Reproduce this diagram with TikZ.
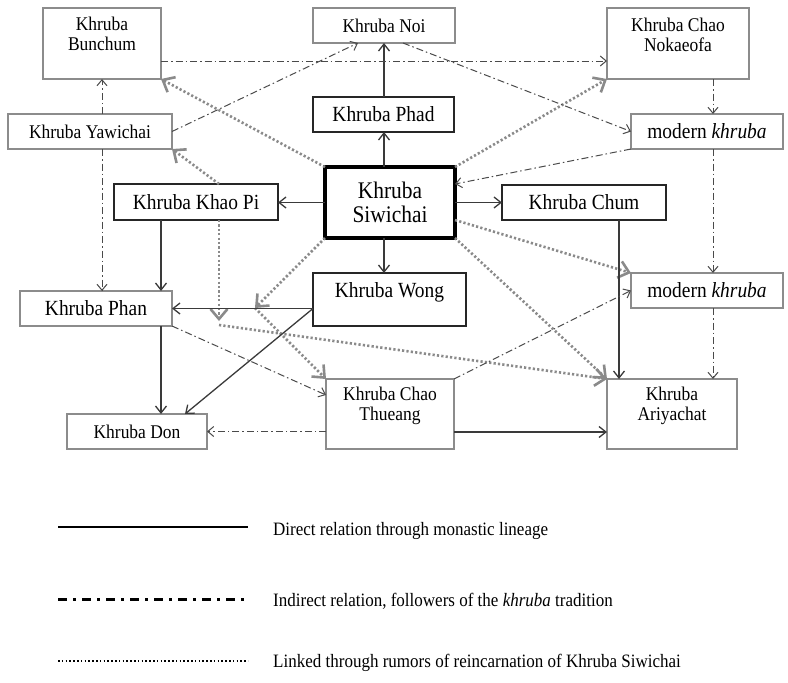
\documentclass[tikz,border=0pt]{standalone}
\usepackage{fontspec}
\setmainfont{Liberation Serif}[FakeStretch=0.9]
\usetikzlibrary{arrows.meta,calc}
\definecolor{gbord}{HTML}{8C8C8C}
\definecolor{kbord}{HTML}{262626}
\definecolor{lnc}{HTML}{3A3A3A}
\definecolor{ddc}{HTML}{4A4A4A}
\definecolor{dotc}{HTML}{8A8A8A}
\begin{document}
\begin{tikzpicture}[x=1pt,y=-1pt,
  boxbase/.style={rectangle, inner sep=0pt, outer sep=0pt, text=black},
  gbox/.style={boxbase, draw=gbord, line width=1.2pt},
  kbox/.style={boxbase, draw=kbord, line width=1.4pt},
  fs/.style={font=\fontsize{19.4}{19.5}\selectfont},
  fl/.style={font=\fontsize{21.6}{22}\selectfont},
  fx/.style={font=\fontsize{23.8}{24}\selectfont},
  lbl/.style={inner sep=0pt, align=center, anchor=north, text=black},
  ln/.style={draw=lnc, line width=1.3pt, -{Straight Barb[length=7pt,width=11pt,line width=1.3pt]}},
  dd/.style={draw=ddc, line width=1pt, dash pattern=on 7pt off 3pt on 1.5pt off 3pt, -{Straight Barb[length=6pt,width=10pt,line width=1pt]}},
  rr/.style={draw=dotc, line width=2.6pt, dash pattern=on 2.2pt off 2.2pt, -{Straight Barb[length=10pt,width=17pt,line width=2.6pt]}},
]
\useasboundingbox (0,0) rectangle (788,683);

% boxes
\node[gbox, minimum width=118pt, minimum height=71pt] (bun) at (102,43.5) {};
\node[lbl, fs] (bunT) at (102,17) {Khruba\\Bunchum};
\node[gbox, fs, minimum width=142pt, minimum height=35pt] (noi) at (384,25.5) {Khruba Noi};
\node[gbox, minimum width=142pt, minimum height=71pt] (nok) at (678,43.5) {};
\node[lbl, fs] (nokT) at (678,18) {Khruba Chao\\Nokaeofa};
\node[kbox, fl, minimum width=141pt, minimum height=35pt] (phad) at (383.5,114.5) {Khruba Phad};
\node[gbox, fs, minimum width=164pt, minimum height=35pt] (yaw) at (90,131.5) {Khruba Yawichai};
\node[gbox, fl, minimum width=152pt, minimum height=35pt] (mod1) at (707,131.5) {modern \textit{khruba}};
\node[boxbase, draw=black, line width=3.6pt, fx, align=center, minimum width=130pt, minimum height=71pt] (siw) at (390,202.5) {Khruba\\Siwichai};
\node[kbox, fl, minimum width=164pt, minimum height=36pt] (khao) at (196,202) {Khruba Khao Pi};
\node[kbox, fl, minimum width=164pt, minimum height=35pt] (chum) at (584,202.5) {Khruba Chum};
\node[gbox, fl, minimum width=152pt, minimum height=35pt] (phan) at (96,308.5) {Khruba Phan};
\node[kbox, minimum width=153pt, minimum height=53pt] (wong) at (389.5,299.5) {};
\node[lbl, fl] (wongT) at (389.5,282) {Khruba Wong};
\node[gbox, fl, minimum width=152pt, minimum height=35pt] (mod2) at (707,290.5) {modern \textit{khruba}};
\node[gbox, minimum width=128pt, minimum height=70pt] (thu) at (390,414) {};
\node[lbl, fs] (thuT) at (390,387) {Khruba Chao\\Thueang};
\node[gbox, fs, minimum width=140pt, minimum height=35pt] (don) at (137,431.5) {Khruba Don};
\node[gbox, minimum width=130pt, minimum height=70pt] (ari) at (672,414) {};
\node[lbl, fs] (ariT) at (672,387) {Khruba\\Ariyachat};

\coordinate (c1) at (219,321);
\coordinate (c2) at (255,308);

% dotted (reincarnation)
\draw[rr] (siw.north west) -- (bun.south east);
\draw[rr] (siw.north east) -- (nok.south west);
\draw[rr] ([xshift=23pt]khao.north) -- (yaw.south east);
\draw[rr] ([xshift=23pt]khao.south) -- (c1);
\draw[rr] ([yshift=-4pt]c1) -- (ari.north west);
\draw[rr] (siw.south west) -- (c2);
\draw[rr] (c2) -- (thu.north west);
\draw[rr] ([yshift=-17.5pt]siw.east) -- (mod2.north west);
\draw[rr] (siw.south east) -- (ari.north west);

% solid (monastic lineage)
\draw[ln] ([xshift=-6pt]siw.north) -- ([xshift=-6pt]siw.north |- phad.south);
\draw[ln] ([xshift=0.5pt]phad.north) -- ([xshift=0.5pt]phad.north |- noi.south);
\draw[ln] (siw.west) -- (siw.west -| khao.east);
\draw[ln] (siw.east) -- (siw.east -| chum.west);
\draw[ln] ([xshift=-6pt]siw.south) -- ([xshift=-6pt]siw.south |- wong.north);
\draw[ln] ([xshift=-35pt]khao.south) -- ([xshift=-35pt]khao.south |- phan.north);
\draw[ln] (phan.east -| wong.west) -- (phan.east);
\draw[ln] (phan.east -| wong.west) -- ([xshift=48pt]don.north);
\draw[ln] ([xshift=65pt]phan.south) -- ([xshift=65pt]phan.south |- don.north);
\draw[ln] ([xshift=35pt]chum.south) -- ([xshift=35pt]chum.south |- ari.north);
\draw[ln] ([yshift=-18pt]thu.east) -- ([yshift=-18pt]thu.east -| ari.west);

% dash-dot (followers)
\draw[dd] ([yshift=-17.5pt]bun.east) -- ([yshift=-17.5pt]bun.east -| nok.west);
\draw[dd] (yaw.east) -- ([xshift=-26pt]noi.south);
\draw[dd] ([xshift=19pt]noi.south) -- (mod1.west);
\draw[dd] ([xshift=12pt]yaw.north) -- ([xshift=12pt]yaw.north |- bun.south);
\draw[dd] ([xshift=12pt]yaw.south) -- ([xshift=12pt]yaw.south |- phan.north);
\draw[dd] ([xshift=35pt]nok.south) -- ([xshift=35pt]nok.south |- mod1.north);
\draw[dd] (mod1.south west) -- ([yshift=18.5pt]siw.east);
\draw[dd] ([xshift=6pt]mod1.south) -- ([xshift=6pt]mod2.north);
\draw[dd] ([xshift=6pt]mod2.south) -- ([xshift=6pt]mod2.south |- ari.north);
\draw[dd] (phan.south east) -- ([yshift=19pt]thu.west);
\draw[dd] (thu.west |- don.east) -- (don.east);
\draw[dd] (thu.north east) -- (mod2.west);

% legend
\coordinate (l1a) at (58,527); \coordinate (l1b) at (248,527);
\coordinate (l2a) at (58,599); \coordinate (l2b) at (248,599);
\coordinate (l3a) at (58,661); \coordinate (l3b) at (248,661);
\draw[black, line width=1.3pt] (l1a) -- (l1b);
\draw[black, line width=3pt, dash pattern=on 9pt off 6pt on 3pt off 6pt] (l2a) -- (l2b);
\draw[black, line width=1.6pt, dash pattern=on 1.6pt off 2.2pt] (l3a) -- (l3b);
\node[anchor=west, inner sep=0pt, font=\fontsize{18.9}{20}\selectfont] (t1) at (273,531) {Direct relation through monastic lineage};
\node[anchor=west, inner sep=0pt, font=\fontsize{18.9}{20}\selectfont] (t2) at (273,601) {Indirect relation, followers of the \textit{khruba} tradition};
\node[anchor=west, inner sep=0pt, font=\fontsize{18.9}{20}\selectfont] (t3) at (273,663) {Linked through rumors of reincarnation of Khruba Siwichai};
\end{tikzpicture}
\end{document}
